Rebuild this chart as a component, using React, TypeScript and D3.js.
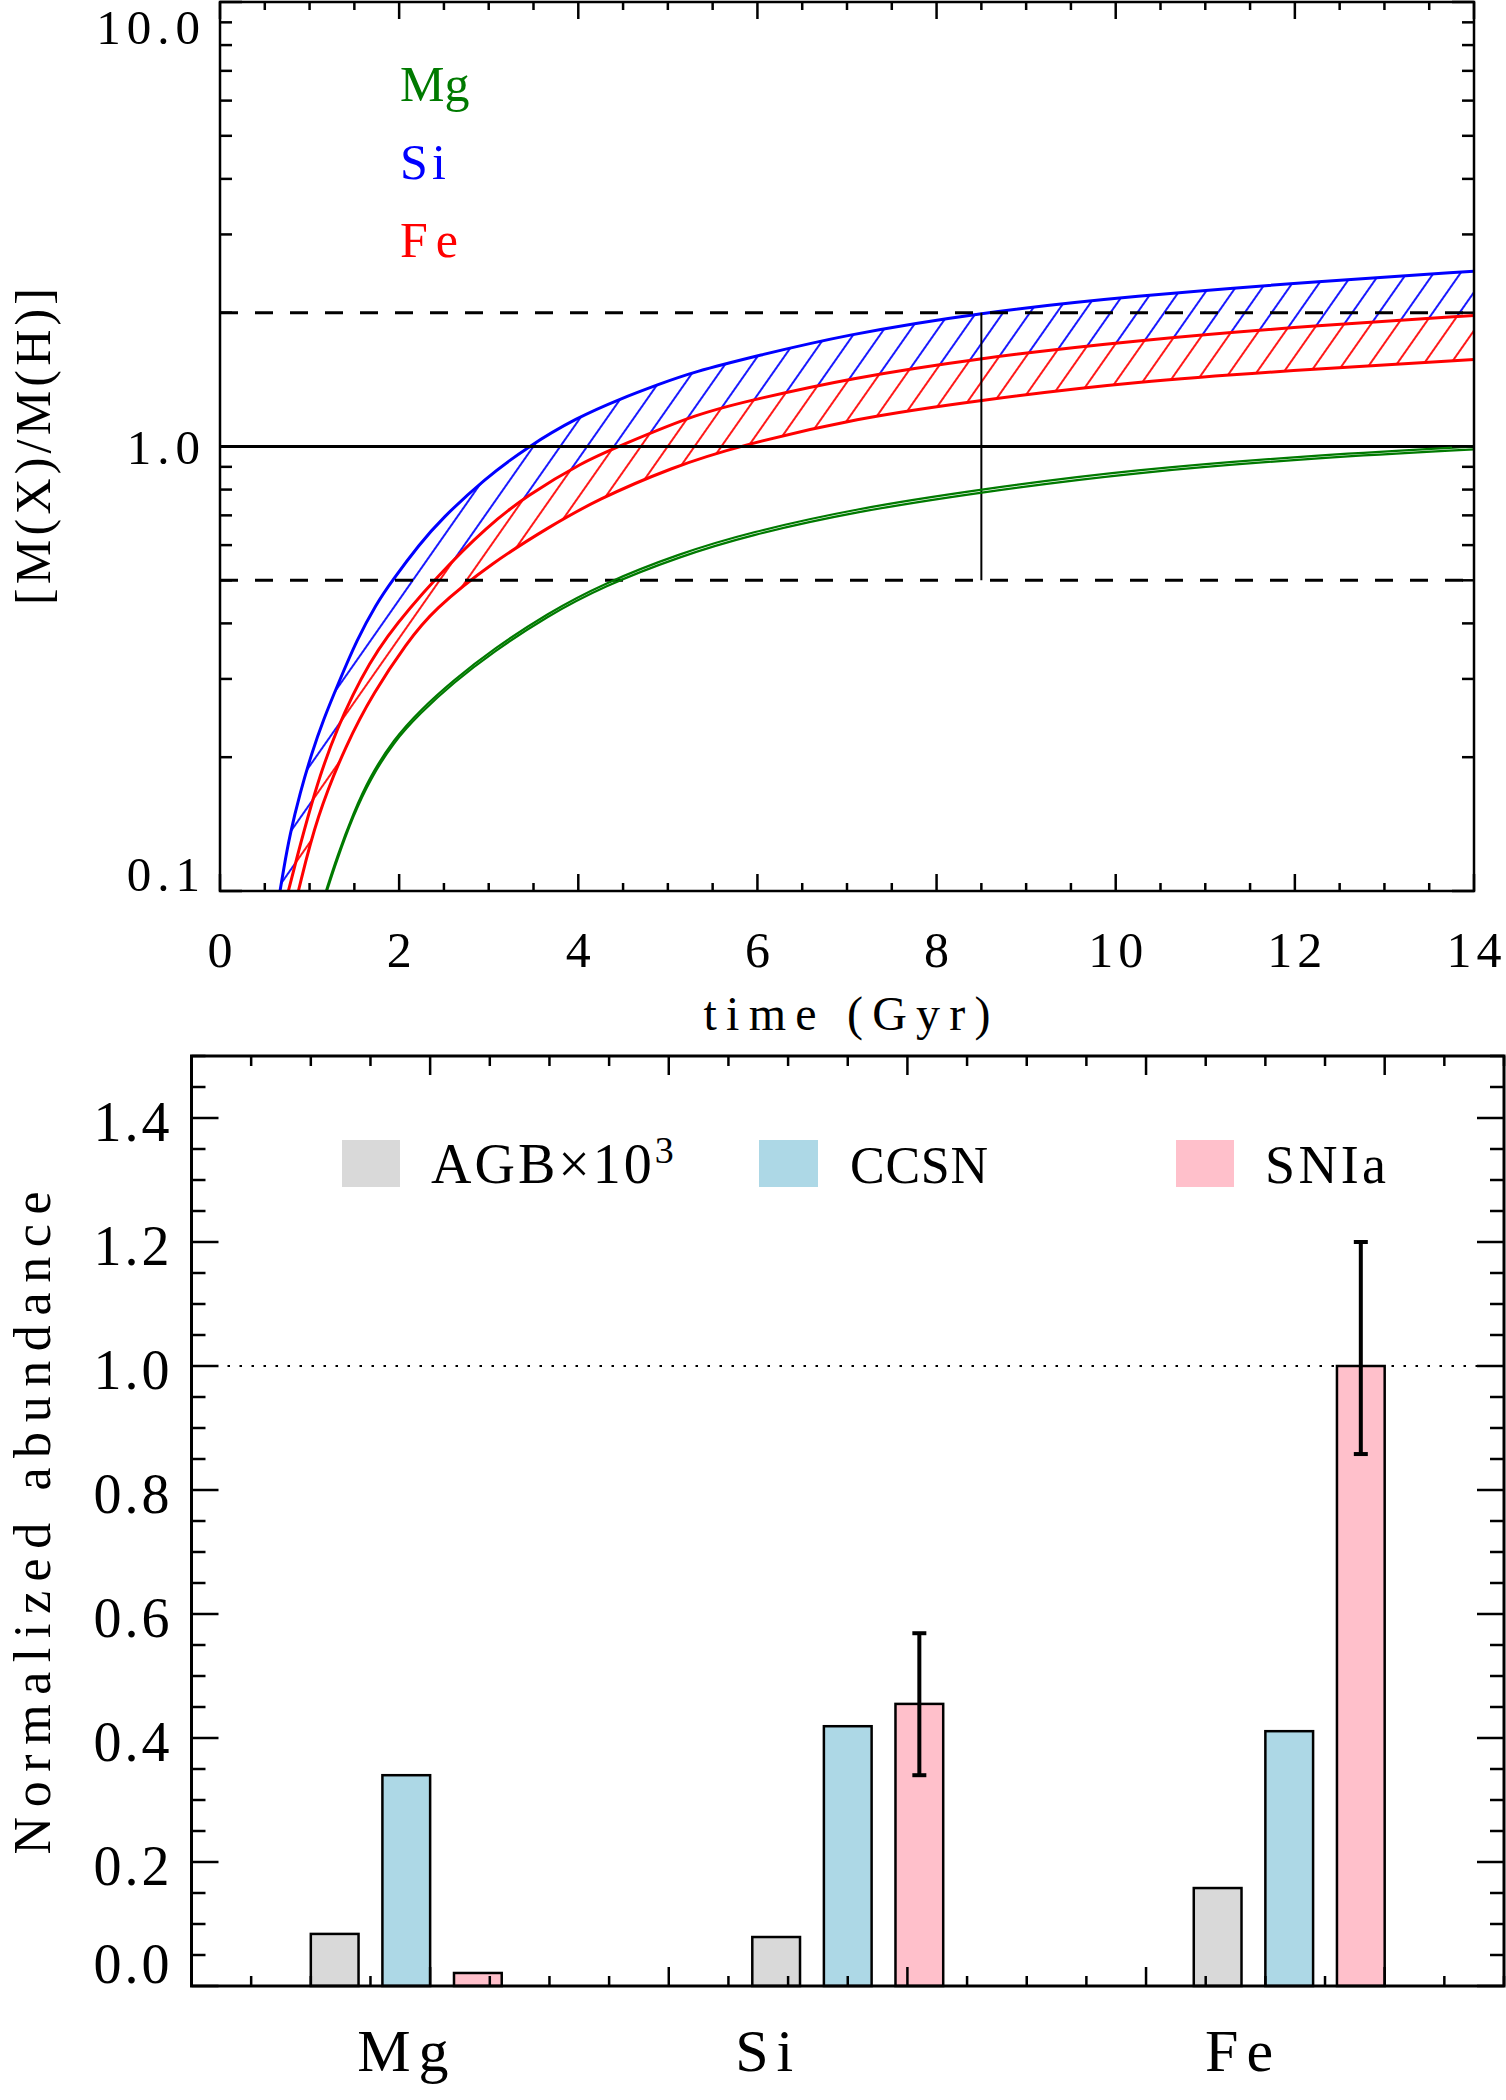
import React from 'react';
import * as d3 from 'd3';

// ---- top panel: metal build-up vs time (t in Gyr, M(X)/M(H) in solar units)
const mgTime = [1.183, 1.303, 1.489, 1.675, 1.935, 2.233, 2.605, 3.05, 3.65, 4.28, 5.136, 5.9, 7.11, 8.47, 10.17, 12.35, 14];
const mgHigh = [0.1, 0.119, 0.15, 0.181, 0.219, 0.255, 0.298, 0.35, 0.421, 0.492, 0.575, 0.64, 0.726, 0.8, 0.887, 0.96, 1.0];
const mgLow = [0.0985, 0.117, 0.148, 0.178, 0.216, 0.251, 0.294, 0.345, 0.415, 0.485, 0.566, 0.631, 0.715, 0.788, 0.874, 0.946, 0.985];

const siTime = [0.67, 0.707, 0.78, 0.893, 1.023, 1.154, 1.321, 1.526, 1.749, 1.917, 2.233, 2.47, 2.95, 3.44, 3.98, 4.47, 4.9, 5.28, 6.0, 6.96, 8.47, 10.17, 12.35, 14];
const siHigh = [0.1, 0.111, 0.134, 0.166, 0.204, 0.243, 0.293, 0.367, 0.444, 0.498, 0.605, 0.686, 0.845, 1.0, 1.16, 1.28, 1.38, 1.47, 1.6, 1.78, 2.0, 2.18, 2.36, 2.48];

const feHighTime = [0.763, 1.117, 1.489, 1.824, 2.456, 2.98, 3.42, 4.06, 4.45, 5.34, 6.0, 7.0, 8.47, 10.17, 12.35, 14];
const feHigh = [0.1, 0.189, 0.281, 0.37, 0.519, 0.66, 0.774, 0.925, 1.0, 1.19, 1.28, 1.42, 1.58, 1.73, 1.88, 1.97];

const feLowTime = [0.875, 1.079, 1.414, 1.712, 2.084, 2.38, 3.05, 3.68, 4.2, 5.06, 5.77, 7.11, 8.47, 10.17, 12.35, 14];
const feLow = [0.1, 0.147, 0.215, 0.279, 0.361, 0.429, 0.55, 0.66, 0.758, 0.9, 1.0, 1.16, 1.27, 1.4, 1.5, 1.57];

const dashedLevels = [0.5, 2.0];
const solarLevel = 1.0;
const sunAge = 8.5;

// ---- bottom panel: normalized abundance per source
const elements = ['Mg', 'Si', 'Fe'];
const groupPos = [0.9, 2.75, 4.6];
const labelPos = [0.886, 2.4, 4.39];
const agb = [0.084, 0.079, 0.158];
const ccsn = [0.34, 0.419, 0.411];
const snia = [0.021, 0.455, 1.0];
const sniaErrLow = [NaN, 0.34, 0.858];
const sniaErrHigh = [NaN, 0.569, 1.2];

const FONT = '"Liberation Serif", "Times New Roman", serif';
const W = 1506;
const H = 2100;

type Pt = [number, number];
const zip = (ts: number[], vs: number[]): Pt[] => ts.map((t, i) => [t, vs[i]]);

export default function App() {
  // top panel scales
  const tx = d3.scaleLinear().domain([0, 14]).range([220, 1474]);
  const ty = d3.scaleLog().domain([0.1, 10]).range([891, 2]);
  const [tL, tR] = tx.range();
  const [tB, tT] = ty.range();

  const line = d3.line<Pt>().x(d => tx(d[0])).y(d => ty(d[1])).curve(d3.curveBasis);
  const band = (upper: Pt[], lower: Pt[]) =>
    (line(upper) || '') + 'L' + (line(lower.slice().reverse()) || '').slice(1) + 'Z';

  const siUp = zip(siTime, siHigh);
  const feUp = zip(feHighTime, feHigh);
  const feDn = zip(feLowTime, feLow);
  const mgUp = zip(mgTime, mgHigh);
  const mgDn = zip(mgTime, mgLow);

  const xMajor = d3.range(0, 15, 2);
  const xMinor = d3.range(0, 29).map(i => i * 0.5).filter(v => v % 2 !== 0);
  const yTicks = ty.ticks();
  const isDecade = (v: number) => Math.abs(Math.log10(v) - Math.round(Math.log10(v))) < 1e-6;

  // bottom panel scales
  const bx = d3.scaleLinear().domain([0, 5.5]).range([191.5, 1504]);
  const by = d3.scaleLinear().domain([0, 1.5]).range([1986, 1056]);
  const [bL, bR] = bx.range();
  const [bB, bT] = by.range();
  const bw = bx(0.2) - bx(0);
  const series = [
    { name: 'AGB', vals: agb, off: -0.3, color: '#d9d9d9' },
    { name: 'CCSN', vals: ccsn, off: 0, color: '#add8e6' },
    { name: 'SNIa', vals: snia, off: 0.3, color: '#ffc0cb' },
  ];
  const byMajor = d3.range(0, 8).map(i => i * 0.2);
  const byMinor = d3.range(0, 31).map(i => i * 0.05);
  const bxMinor = d3.range(0, 23).map(i => i * 0.25);

  const tick = (x1: number, y1: number, x2: number, y2: number, k: string) => (
    <line key={k} x1={x1} y1={y1} x2={x2} y2={y2} stroke="#000" strokeWidth={2.5} />
  );

  return (
    <div style={{ position: 'absolute', left: 0, top: 0 }}>
      <svg width={W} height={H} viewBox={`0 0 ${W} ${H}`} style={{ display: 'block', background: '#fff' }}>
        <defs>
          <clipPath id="topClip">
            <rect x={tL} y={tT} width={tR - tL} height={tB - tT} />
          </clipPath>
          <pattern id="hatchBlue" patternUnits="userSpaceOnUse" width={22} height={22} patternTransform="rotate(35)">
            <line x1={11} y1={-2} x2={11} y2={24} stroke="#0000ff" strokeWidth={1.8} />
          </pattern>
          <pattern id="hatchRed" patternUnits="userSpaceOnUse" width={22} height={22} patternTransform="rotate(35)">
            <line x1={11} y1={-2} x2={11} y2={24} stroke="#ff0000" strokeWidth={1.8} />
          </pattern>
        </defs>

        {/* ================= TOP PANEL ================= */}
        <g clipPath="url(#topClip)">
          <path d={band(siUp, feUp)} fill="url(#hatchBlue)" />
          <path d={band(feUp, feDn)} fill="url(#hatchRed)" />
          <path d={line(siUp) || ''} fill="none" stroke="#0000ff" strokeWidth={3} />
          <path d={line(feUp) || ''} fill="none" stroke="#ff0000" strokeWidth={3} />
          <path d={line(feDn) || ''} fill="none" stroke="#ff0000" strokeWidth={3} />

          {dashedLevels.map(v => (
            <line key={v} x1={tL} x2={tR} y1={ty(v)} y2={ty(v)} stroke="#000" strokeWidth={3} strokeDasharray="18,17" />
          ))}
          <line x1={tL} x2={tR} y1={ty(solarLevel)} y2={ty(solarLevel)} stroke="#000" strokeWidth={3} />
          <line x1={tx(sunAge)} x2={tx(sunAge)} y1={ty(dashedLevels[0])} y2={ty(dashedLevels[1])} stroke="#000" strokeWidth={2} />

          <path d={line(mgUp) || ''} fill="none" stroke="#007a00" strokeWidth={2.2} />
          <path d={line(mgDn) || ''} fill="none" stroke="#007a00" strokeWidth={2.2} />
        </g>

        <rect x={tL} y={tT} width={tR - tL} height={tB - tT} fill="none" stroke="#000" strokeWidth={2.5} />
        {xMajor.map(v => tick(tx(v), tB, tx(v), tB - 17, 'xb' + v))}
        {xMajor.map(v => tick(tx(v), tT, tx(v), tT + 17, 'xt' + v))}
        {xMinor.map(v => tick(tx(v), tB, tx(v), tB - 8, 'xbm' + v))}
        {xMinor.map(v => tick(tx(v), tT, tx(v), tT + 8, 'xtm' + v))}
        {yTicks.map(v => {
          const len = isDecade(v) ? 22 : 12;
          return (
            <g key={'yt' + v}>
              {tick(tL, ty(v), tL + len, ty(v), 'l')}
              {tick(tR, ty(v), tR - len, ty(v), 'r')}
            </g>
          );
        })}

        <g fontFamily={FONT} fill="#000">
          {xMajor.map(v => (
            <text key={'xl' + v} x={tx(v)} y={967} fontSize={50} textAnchor="middle" style={{ letterSpacing: '5px' }} dx={2.5}>
              {v}
            </text>
          ))}
          {yTicks.filter(isDecade).map(v => (
            <text
              key={'yl' + v}
              x={tL - 20}
              y={Math.min(Math.max(ty(v) + 17, tT + 42), tB)}
              fontSize={49}
              textAnchor="end"
              style={{ letterSpacing: '6px' }}
              dx={6}
            >
              {d3.format('.1f')(v)}
            </text>
          ))}
          <text x={(tL + tR) / 2} y={1030} fontSize={48} textAnchor="middle" textLength={287} lengthAdjust="spacing">
            time (Gyr)
          </text>
          <text
            transform={`translate(50, ${(tT + tB) / 2}) rotate(-90)`}
            fontSize={50}
            textAnchor="middle"
            textLength={317}
            lengthAdjust="spacing"
          >
            [M(X)/M(H)]
          </text>

          <text x={400} y={101} fontSize={50} fill="#007a00">Mg</text>
          <text x={400} y={179} fontSize={50} fill="#0000ff" textLength={46} lengthAdjust="spacing">Si</text>
          <text x={400} y={257} fontSize={50} fill="#ff0000" textLength={58} lengthAdjust="spacing">Fe</text>
        </g>

        {/* ================= BOTTOM PANEL ================= */}
        <line x1={bL} x2={bR} y1={by(1)} y2={by(1)} stroke="#000" strokeWidth={2} strokeDasharray="2.5,9.5" />

        {series.map(s => (
          <g key={s.name}>
            {s.vals.map((v, i) => (
              <rect
                key={i}
                x={bx(groupPos[i] + s.off) - bw / 2}
                y={by(v)}
                width={bw}
                height={by(0) - by(v)}
                fill={s.color}
                stroke="#000"
                strokeWidth={2.5}
              />
            ))}
          </g>
        ))}

        {snia.map((_, i) => {
          if (isNaN(sniaErrLow[i])) return null;
          const x = bx(groupPos[i] + 0.3);
          return (
            <g key={'err' + i} stroke="#000" strokeWidth={4}>
              <line x1={x} x2={x} y1={by(sniaErrLow[i])} y2={by(sniaErrHigh[i])} />
              <line x1={x - 7} x2={x + 7} y1={by(sniaErrLow[i])} y2={by(sniaErrLow[i])} />
              <line x1={x - 7} x2={x + 7} y1={by(sniaErrHigh[i])} y2={by(sniaErrHigh[i])} />
            </g>
          );
        })}

        <rect x={bL} y={bT} width={bR - bL} height={bB - bT} fill="none" stroke="#000" strokeWidth={3} />
        {byMinor.map(v => {
          const major = Math.abs(v / 0.2 - Math.round(v / 0.2)) < 1e-6;
          const len = major ? 27 : 14;
          return (
            <g key={'by' + v}>
              {tick(bL, by(v), bL + len, by(v), 'l')}
              {tick(bR, by(v), bR - len, by(v), 'r')}
            </g>
          );
        })}
        {bxMinor.map(v => {
          const major = Math.abs(v - Math.round(v)) < 1e-6;
          const len = major ? 19 : 10;
          return (
            <g key={'bx' + v}>
              {tick(bx(v), bB, bx(v), bB - len, 'b')}
              {tick(bx(v), bT, bx(v), bT + len, 't')}
            </g>
          );
        })}

        <g fontFamily={FONT} fill="#000">
          {byMajor.map(v => (
            <text
              key={'byl' + v}
              x={bL - 22}
              y={Math.min(by(v) + 23, bB - 3)}
              fontSize={56}
              textAnchor="end"
              style={{ letterSpacing: '3px' }}
              dx={3}
            >
              {d3.format('.1f')(v)}
            </text>
          ))}
          {elements.map((e, i) => (
            <text key={e} x={bx(labelPos[i])} y={2071} fontSize={60} textAnchor="middle" style={{ letterSpacing: '8px' }} dx={4}>
              {e}
            </text>
          ))}
          <text
            transform={`translate(50, 1523) rotate(-90)`}
            fontSize={52}
            textAnchor="middle"
            textLength={663}
            lengthAdjust="spacing"
          >
            Normalized abundance
          </text>

          <rect x={342} y={1140} width={58} height={47} fill="#d9d9d9" />
          <text x={431} y={1183} fontSize={56} style={{ letterSpacing: '3px' }}>
            AGB×10<tspan dy={-20} fontSize={38}>3</tspan>
          </text>
          <rect x={759} y={1140} width={59} height={47} fill="#add8e6" />
          <text x={850} y={1183} fontSize={52} textLength={138} lengthAdjust="spacing">CCSN</text>
          <rect x={1176} y={1140} width={58} height={47} fill="#ffc0cb" />
          <text x={1265} y={1183} fontSize={54} textLength={121} lengthAdjust="spacing">SNIa</text>
        </g>
      </svg>
    </div>
  );
}
